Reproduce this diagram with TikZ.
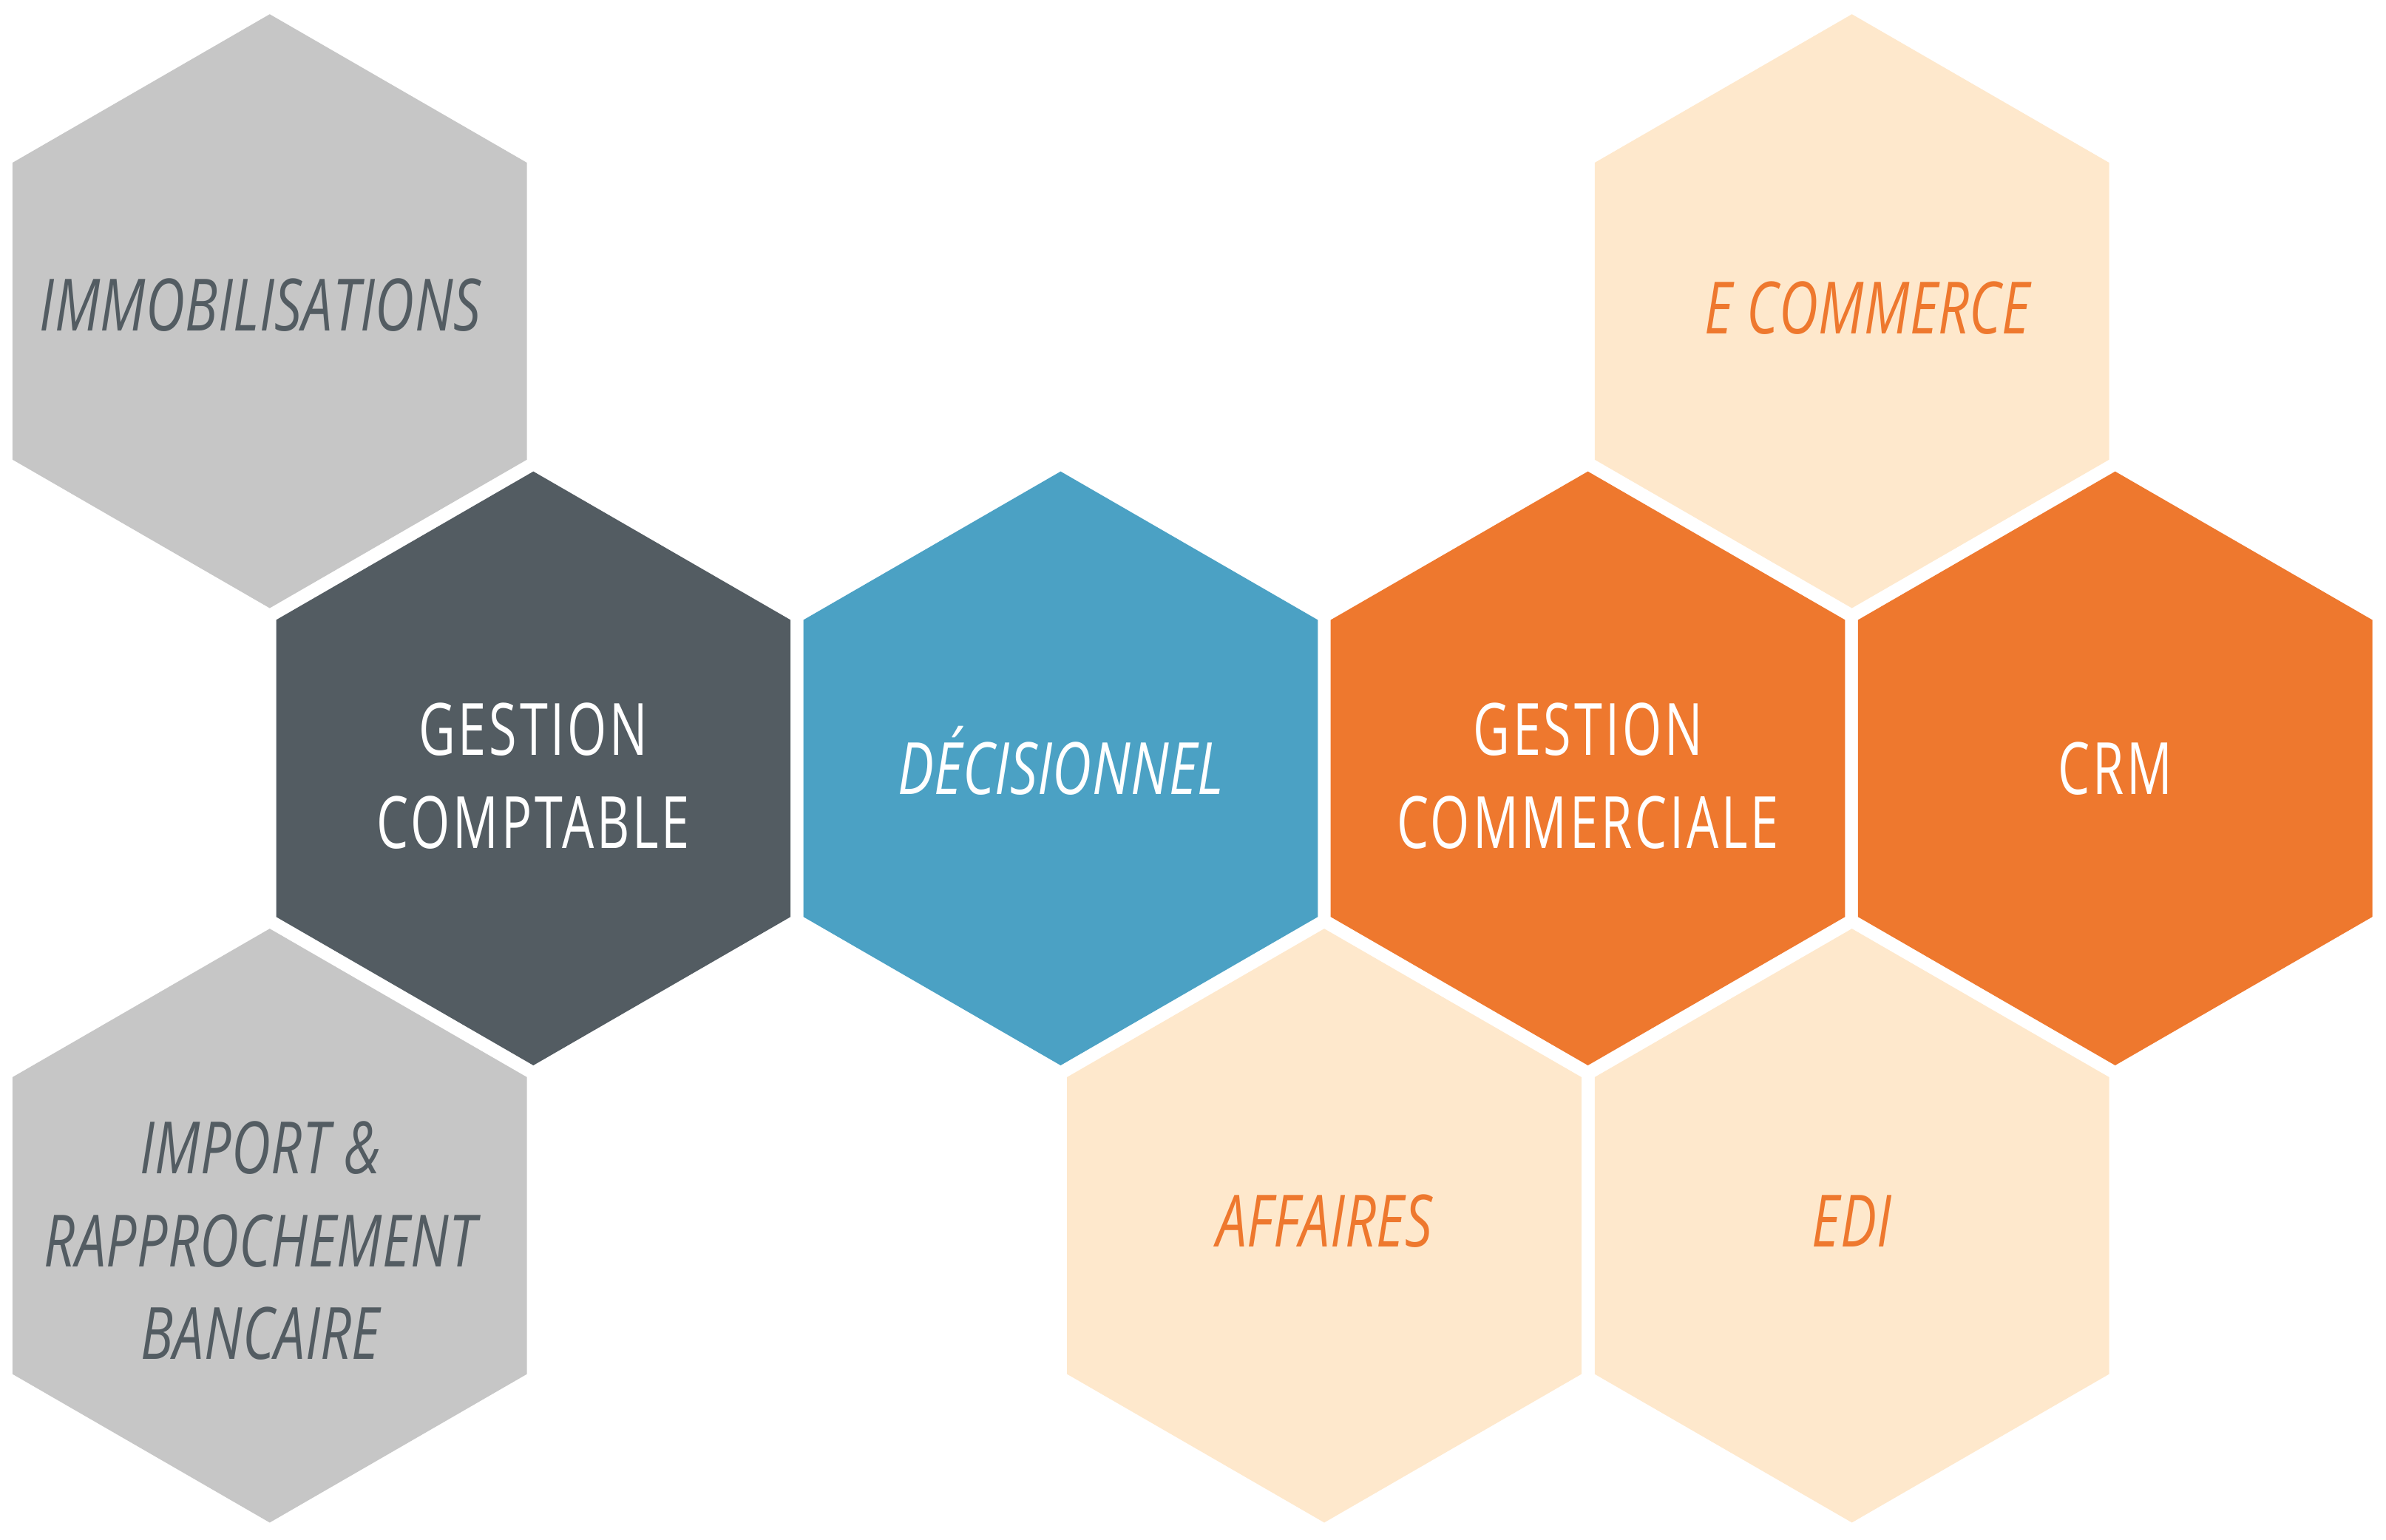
\documentclass[tikz,border=0pt]{standalone}
\usepackage{fontspec}
\setmainfont{Open Sans}[FakeStretch=0.70, LetterSpace=4.0,
  ItalicFeatures={FakeStretch=0.75, LetterSpace=0.5}]
\usetikzlibrary{shapes.geometric}
\definecolor{hgray}{HTML}{C6C6C6}
\definecolor{hdark}{HTML}{535C62}
\definecolor{hblue}{HTML}{4BA1C4}
\definecolor{horange}{HTML}{EE782E}
\definecolor{hpeach}{HTML}{FEE8CC}
\tikzset{
  hexbox/.style={regular polygon, regular polygon sides=6, shape border rotate=30,
    minimum size=7.808cm, inner sep=0pt, outer sep=0pt, draw=none},
  grayhex/.style={hexbox, fill=hgray},
  darkhex/.style={hexbox, fill=hdark},
  bluehex/.style={hexbox, fill=hblue},
  orangehex/.style={hexbox, fill=horange},
  peachhex/.style={hexbox, fill=hpeach},
  lbl/.style={align=center, inner sep=0pt, font=\fontsize{27}{34.7}\selectfont},
  graytxt/.style={lbl, text=hdark, font=\fontsize{27}{34.7}\selectfont\itshape},
  whitetxt/.style={lbl, text=white},
  whiteitxt/.style={lbl, text=white, font=\fontsize{27}{34.7}\selectfont\itshape},
  orangetxt/.style={lbl, text=horange, font=\fontsize{27}{34.7}\selectfont\itshape},
}
\begin{document}
\begin{tikzpicture}[x=0.02cm, y=-0.02cm]
\useasboundingbox (0,0) rectangle (1568,1012);
% hexagons
\node[grayhex]   (hx-immo)   at (177.25,204.5) {};
\node[darkhex]   (hx-compta) at (350.5,505) {};
\node[bluehex]   (hx-decis)  at (697,505) {};
\node[orangehex] (hx-gcomm)  at (1043.5,505) {};
\node[orangehex] (hx-crm)    at (1390,505) {};
\node[peachhex]  (hx-ecomm)  at (1217,204.5) {};
\node[grayhex]   (hx-import) at (177.25,805.5) {};
\node[peachhex]  (hx-aff)    at (870.25,805.5) {};
\node[peachhex]  (hx-edi)    at (1217,805.5) {};
% labels
\node[graytxt]   (immo)   at (171,200.5) {IMMOBILISATIONS};
\node[whitetxt]  (compta) at (350.5,510) {GESTION\\COMPTABLE};
\node[whiteitxt] (decis)  at (697,500) {DÉCISIONNEL};
\node[whitetxt]  (gcomm)  at (1043.5,510) {GESTION\\COMMERCIALE};
\node[whitetxt]  (crm)    at (1390,505) {CRM};
\node[orangetxt] (ecomm)  at (1227,202.5) {E COMMERCE};
\node[graytxt]   (import) at (171,815.5) {IMPORT \&\\RAPPROCHEMENT\\BANCAIRE};
\node[orangetxt] (aff)    at (870.25,802.5) {AFFAIRES};
\node[orangetxt] (edi)    at (1217,802.5) {EDI};
\end{tikzpicture}
\end{document}
